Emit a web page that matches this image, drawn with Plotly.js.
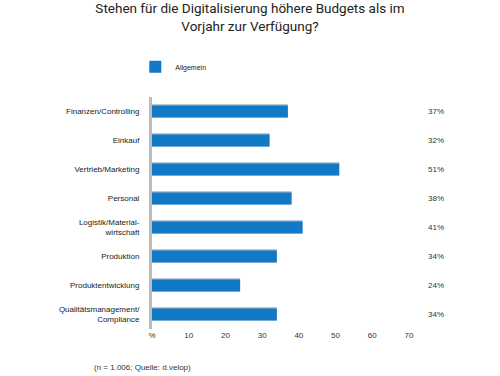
<!DOCTYPE html>
<html><head><meta charset="utf-8">
<script src="https://cdn.plot.ly/plotly-3.0.1.min.js"></script>
<style>body{margin:0;background:#fff}#c{width:500px;height:376px}</style>
</head><body><div id="c"></div>
<script>
const categories = ["Finanzen/Controlling","Einkauf","Vertrieb/Marketing","Personal","Logistik/Material-<br>wirtschaft","Produktion","Produktentwicklung","Qualitätsmanagement/<br>Compliance"];
const values = [37,32,51,38,41,34,24,34];
const valueLabels = ["37%","32%","51%","38%","41%","34%","24%","34%"];
const tickVals = [0,10,20,30,40,50,60,70];
const tickText = ["%","10","20","30","40","50","60","70"];
const seriesName = "Allgemein";

const font = "Liberation Sans, Arial, sans-serif";
const tfont = "Roboto, Liberation Sans, sans-serif";
const traces = [
  {type:"bar", orientation:"h", y:categories, x:values, width:0.46, offset:-0.25,
   marker:{color:"#a9b6c4"}, showlegend:false, hoverinfo:"skip"},
  {type:"bar", orientation:"h", y:categories, x:values, width:0.42, offset:-0.21,
   name:seriesName, marker:{color:"#1279c6"}}
];
const annotations = categories.map((c,i)=>({
  xref:"paper", x:1.105, y:c, yref:"y", text:valueLabels[i], showarrow:false,
  xanchor:"center", font:{size:8, color:"#333", family:font}
}));
annotations.push({xref:"paper", yref:"paper", x:-0.235, y:-0.165, xanchor:"left", yanchor:"middle",
  text:"(n = 1.006; Quelle: d.velop)", showarrow:false, font:{size:8, color:"#333", family:font}});
const layout = {
  width:500, height:376,
  margin:{l:152, r:91, t:97, b:47},
  paper_bgcolor:"#fff", plot_bgcolor:"#fff",
  barmode:"overlay",
  title:{text:"Stehen für die Digitalisierung höhere Budgets als im<br>Vorjahr zur Verfügung?",
    x:0.5, xanchor:"center", y:0.965, yanchor:"top", font:{size:13.5, color:"#222", family:tfont}},
  xaxis:{range:[0,70], tickvals:tickVals, ticktext:tickText, showgrid:false, zeroline:false,
    showline:false, ticks:"", tickfont:{size:8, color:"#333", family:font}},
  yaxis:{autorange:"reversed", showgrid:false, zeroline:false, showline:true, linecolor:"#bdbdbd",
    linewidth:3, ticks:"", ticklabelstandoff:8, tickfont:{size:8, color:"#222", family:font}},
  showlegend:true,
  legend:{x:-0.065, xanchor:"left", y:1.13, yanchor:"middle", font:{size:7, color:"#222", family:font},
    bgcolor:"rgba(0,0,0,0)"},
  annotations:annotations
};
Plotly.newPlot("c", traces, layout, {displayModeBar:false});
</script></body></html>
